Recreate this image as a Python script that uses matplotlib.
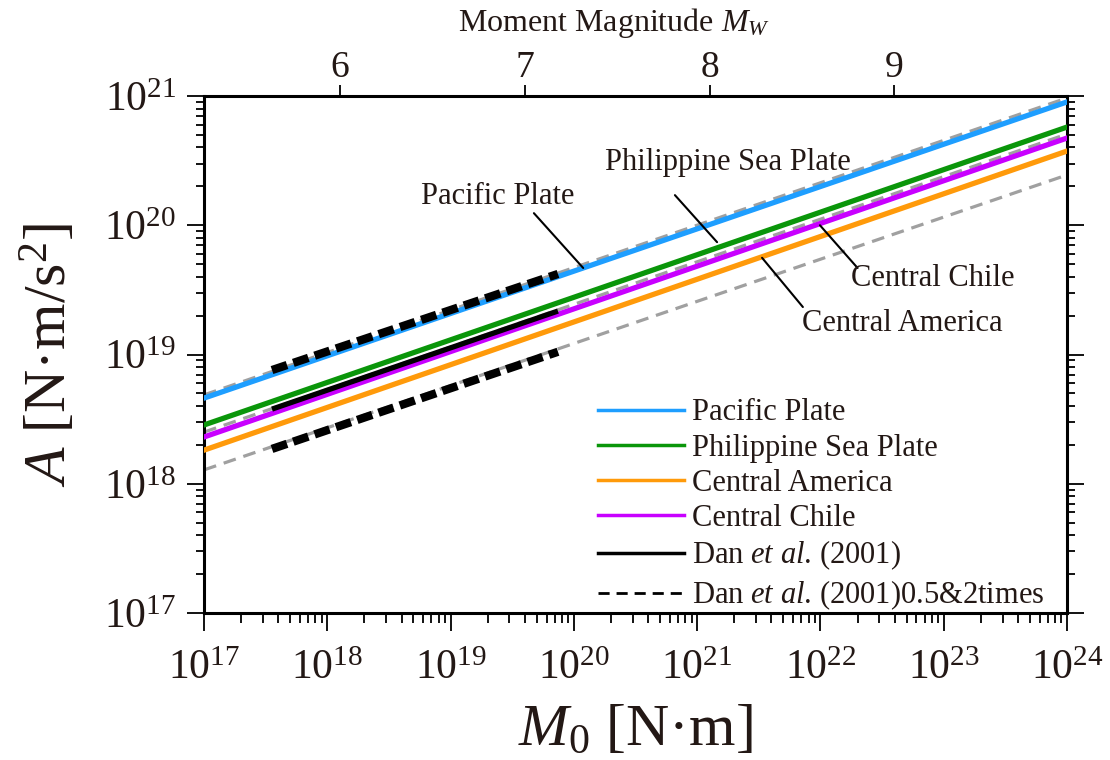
import numpy as np
import matplotlib
matplotlib.use("Agg")
import matplotlib.pyplot as plt
from matplotlib.lines import Line2D
from matplotlib.ticker import NullLocator, LogLocator

plt.rcParams['font.family'] = ['Liberation Serif', 'DejaVu Serif']
plt.rcParams['mathtext.fontset'] = 'custom'
plt.rcParams['mathtext.rm'] = 'Liberation Serif'
plt.rcParams['mathtext.it'] = 'Liberation Serif:italic'
plt.rcParams['text.color'] = '#231815'

# data (endpoints of straight lines on log-log axes)
m0_full = [1e17, 1e24]
a_pacific = [4.6e18, 9.0e20]
a_philippine = [2.85e18, 5.75e20]
a_chile = [2.30e18, 4.73e20]
a_america = [1.82e18, 3.75e20]
a_dan_ext = [2.51e18, 5.08e20]
a_dan_ext_2x = [4.87e18, 9.66e20]
a_dan_ext_05x = [1.28e18, 2.45e20]

m0_dan = [3.56e17, 7.43e19]
a_dan = [3.78e18, 2.17e19]
a_dan_2x = [7.58e18, 4.2e19]
a_dan_05x = [1.86e18, 1.05e19]

mw_ticks = [6, 7, 8, 9]

c_blue = '#1E9EFF'
c_green = '#0A960A'
c_orange = '#FF9A0A'
c_magenta = '#C800FF'
c_gray = '#A0A0A0'
txt = '#231815'

fig = plt.figure(figsize=(11.1, 7.6), dpi=100)
ax = fig.add_axes([0.1838, 0.1934, 0.9613 - 0.1838, 0.8737 - 0.1934])
ax.set_xscale('log')
ax.set_yscale('log')

# gray dashed extensions
for yy in [a_dan_ext_2x, a_dan_ext, a_dan_ext_05x]:
    ax.plot(m0_full, yy, color=c_gray, lw=2.3, dashes=(4, 2.5), zorder=2)

ax.plot(m0_full, a_pacific, color=c_blue, lw=3.8, zorder=3)
ax.plot(m0_full, a_philippine, color=c_green, lw=3.8, zorder=3)
ax.plot(m0_full, a_chile, color=c_magenta, lw=3.8, zorder=3)
ax.plot(m0_full, a_america, color=c_orange, lw=3.8, zorder=3)

ax.plot(m0_dan, a_dan, color='black', lw=3.8, zorder=4, solid_capstyle='butt')
ax.plot(m0_dan, a_dan_2x, color='black', lw=6, dashes=(1.9, 0.8), zorder=4)
ax.plot(m0_dan, a_dan_05x, color='black', lw=6, dashes=(1.9, 0.8), zorder=4)

ax.set_xlim(1e17, 1e24)
ax.set_ylim(1e17, 1e21)
ax.xaxis.set_major_locator(LogLocator(base=10, numticks=20))
ax.yaxis.set_major_locator(LogLocator(base=10, numticks=20))
ax.xaxis.set_minor_locator(LogLocator(base=10, subs=np.arange(2, 10), numticks=20))
ax.yaxis.set_minor_locator(LogLocator(base=10, subs=np.arange(2, 10), numticks=20))

for s in ax.spines.values():
    s.set_linewidth(2.2)
ax.tick_params(axis='both', which='both', direction='out', colors='black',
               labelcolor=txt, width=1.3, top=False)
ax.tick_params(axis='x', which='major', length=13, labelsize=30, pad=13)
ax.tick_params(axis='x', which='minor', length=7)
ax.tick_params(axis='y', which='major', length=12, labelsize=30, pad=8, right=True)
ax.tick_params(axis='y', which='minor', length=6, right=True)

ax.set_xlabel(r'$M_0$ [N·m]', fontsize=43, labelpad=12, color=txt)
ax.set_ylabel(r'$A$ [N·m/s$^2$]', fontsize=43, labelpad=18, color=txt)

# top axis: moment magnitude
ax2 = ax.twiny()
ax2.set_xscale('log')
ax2.set_xlim(ax.get_xlim())
ax2.set_xticks([10 ** (1.5 * m + 9.1) for m in mw_ticks])
ax2.set_xticklabels([str(m) for m in mw_ticks])
ax2.xaxis.set_minor_locator(NullLocator())
ax2.tick_params(axis='x', which='minor', length=0, top=False)
ax2.tick_params(axis='x', which='major', direction='out', length=8, width=1.3,
                labelsize=27, pad=0, labelcolor=txt)
ax2.set_xlabel(r'Moment Magnitude $M_W$', fontsize=23, color=txt)
ax2.xaxis.set_label_coords(0.475, 1.125)
for s in ax2.spines.values():
    s.set_visible(False)

# leader annotations
ann = dict(arrowprops=dict(arrowstyle='-', color='black', lw=1.5,
                           shrinkA=0, shrinkB=0))
ax.annotate('', xy=(1.19e20, 4.67e19), xytext=(4.74e19, 1.24e20), **ann)
ax.text(2.42e19, 1.66e20, 'Pacific Plate', fontsize=22, ha='center', va='center', color=txt)
ax.annotate('', xy=(1.45e21, 7.4e19), xytext=(6.6e20, 1.71e20), **ann)
ax.text(1.78e21, 3.08e20, 'Philippine Sea Plate', fontsize=22, ha='center', va='center', color=txt)
ax.annotate('', xy=(9.9e21, 1.0e20), xytext=(2.0e22, 4.67e19), **ann)
ax.text(8.2e22, 3.9e19, 'Central Chile', fontsize=22, ha='center', va='center', color=txt)
ax.annotate('', xy=(3.36e21, 5.6e19), xytext=(7.2e21, 2.33e19), **ann)
ax.text(4.6e22, 1.75e19, 'Central America', fontsize=22, ha='center', va='center', color=txt)

handles = [
    Line2D([], [], color=c_blue, lw=2.5),
    Line2D([], [], color=c_green, lw=2.5),
    Line2D([], [], color=c_orange, lw=2.5),
    Line2D([], [], color=c_magenta, lw=2.5),
    Line2D([], [], color='black', lw=2.5),
    Line2D([], [], color='black', lw=2.0, dashes=(4, 2.5)),
]
labels = ['Pacific Plate', 'Philippine Sea Plate', 'Central America',
          'Central Chile', r'Dan $et$ $al$. (2001)', r'Dan $et$ $al$. (2001)0.5&2times']
leg = ax.legend(handles, labels, loc='upper left', bbox_to_anchor=(0.457, 0.415),
                frameon=False, fontsize=22, handlelength=2.8, handletextpad=0.25,
                labelspacing=0.2, borderaxespad=0, borderpad=0)
for t in leg.get_texts():
    t.set_color(txt)

fig.savefig('out.png', dpi=100)
